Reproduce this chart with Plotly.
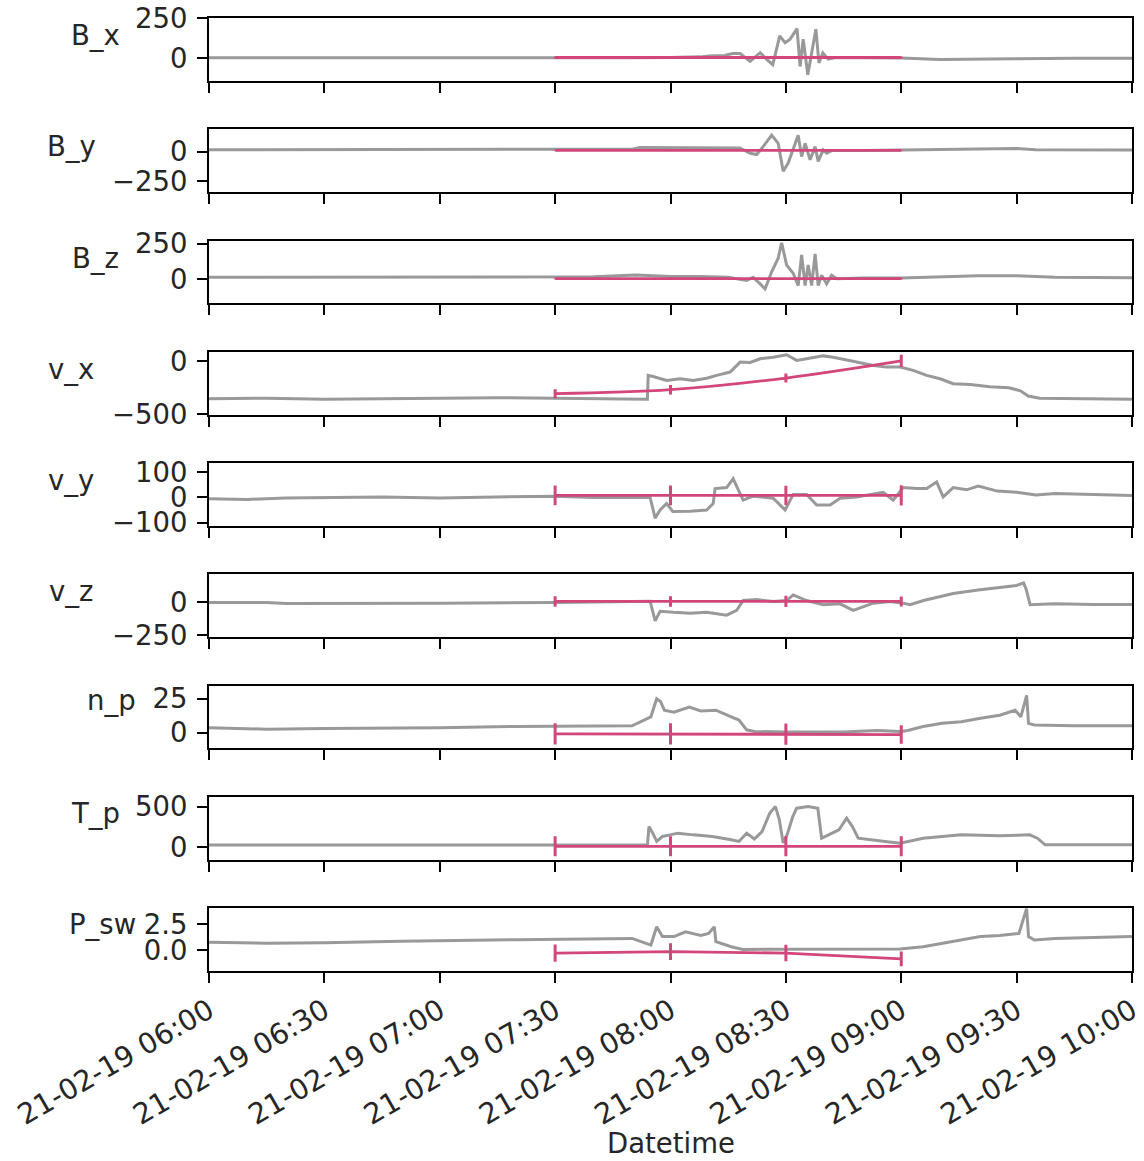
import pandas as pd
import plotly.graph_objects as go
from plotly.subplots import make_subplots

T0 = pd.Timestamp("2019-02-21 06:00")

# ---- observed (grey) series: minutes after 06:00 and values ----
bx_t = [0, 30, 60, 90, 110, 120, 127.7, 130, 134, 136.2, 138.1, 140.7, 143.3, 145.1, 146.6, 148.4, 149.8,
        151.1, 152.9, 153.7, 154.5, 155.7, 156.8, 157.8, 158.6, 159.6, 161, 163, 170, 180, 190, 200, 210, 225, 240]
bx_v = [3, 2, 3, 3, 3, 5, 9, 15, 18, 30, 30, -19, 35, -8, -40, 140, 98,
        120, 186, -51, 120, -103, 60, 182, -29, 34, -5, 5, 3, 2, -8, -3, -2, 0, 0]

by_t = [0, 30, 60, 90, 110, 112, 130, 138, 140.7, 142.4, 144.1, 146.3, 148, 149.3, 150.6, 151.9, 153.2,
        154.1, 155, 156.3, 157.6, 158.4, 159.7, 160.6, 162, 170, 180, 200, 210, 215, 240]
by_v = [15, 15, 15, 15, 20, 35, 35, 30, -14, -25, 42, 139, 70, -167, -97, 14, 139,
        -42, 70, -69, 42, -83, 14, -14, 10, 10, 14, 20, 25, 15, 14]

bz_t = [0, 30, 60, 100, 111, 115, 120, 127.7, 135, 139.8, 141.5, 143.3, 144.6, 146.3, 148.0, 148.9, 150.2,
        151.9, 153.2, 154.1, 155.0, 155.8, 156.7, 157.6, 158.4, 159.3, 160.6, 161.9, 163.2, 170, 180, 200,
        210, 220, 240]
bz_v = [15, 15, 15, 18, 30, 25, 20, 20, 15, -7, 15, -31, -66, 53, 148, 255, 100,
        43, -43, 171, -43, 100, -43, 178, -43, 29, -31, 29, 5, 10, 10, 25,
        25, 15, 12]

vx_t = [0, 15, 30, 45, 60, 75, 90, 100, 110, 114, 114.2, 115.5, 119, 122.5, 125.9, 129.4, 132, 135.5,
        138.1, 140.7, 143.3, 146.7, 150.2, 152.8, 155.4, 159.7, 162.3, 165.8, 168.4, 172.7, 176.2, 179.7,
        183.1, 186.6, 190.1, 193.5, 198, 203, 208, 211, 213, 216, 225, 240]
vx_v = [-355, -350, -360, -355, -350, -345, -350, -355, -360, -360, -133, -143, -181, -165, -181, -160,
        -133, -101, -6, -10, 26, 41, 64, 10, 26, 53, 40, 10, -6, -38, -54, -54,
        -85, -133, -165, -212, -220, -240, -250, -280, -330, -350, -355, -360]

vy_t = [0, 10, 20, 30, 45, 60, 75, 90, 100, 110, 114.7, 116.0, 117.3, 119.0, 120.6, 125.1, 129.4, 131.1,
        131.6, 134.6, 136.3, 137.6, 138.9, 141.5, 146.7, 149.8, 151.9, 155.4, 158.0, 161.5, 164.1, 168.4,
        172.7, 175.3, 177.9, 180.5, 184.0, 186.6, 189.2, 190.9, 193.5, 197, 200, 205, 210, 215, 220, 230, 240]
vy_v = [-5, -8, -2, 0, 2, -2, 3, 5, 0, 0, 0, -82, -50, -24, -56, -55, -50, -24,
        35, 39, 74, 31, -11, 5, -3, -50, 12, 12, -30, -30, -3, 2,
        12, 20, -11, 39, 35, 35, 61, 2, 39, 30, 45, 25, 20, 10, 15, 10, 8]

vz_t = [0, 15, 20, 30, 60, 90, 110, 114.7, 116, 117.3, 120.8, 125.1, 129.4, 134.6, 137.2, 138.9, 142.4,
        146.7, 150.2, 151.9, 155.4, 159.7, 164.1, 167.5, 172.7, 177.1, 180.5, 182.3, 185.8, 190.1, 193.5,
        200, 205, 210, 211.8, 212.5, 213.5, 220, 230, 240]
vz_v = [0, 0, -8, -6, -5, 0, 10, 10, -140, -67, -75, -82, -75, -97, -60, 15, 22,
        8, 15, 58, 15, -17, -10, -60, -5, 8, -5, -17, 15, 45, 68,
        95, 110, 130, 150, 100, -17, -10, -15, -15]

np_t = [0, 15, 30, 60, 80, 100, 110, 114.9, 116.4, 117.4, 118.4, 120.9, 124.9, 127.9, 131.8, 135.8, 137.8,
        139.8, 141.8, 150, 165, 173.7, 179.7, 181.7, 185.7, 190.6, 195.6, 200.6, 205.6, 209.6, 211.1, 212.6,
        213.1, 214.6, 225, 240]
np_v = [3.5, 2.5, 3, 3.5, 4.5, 5, 5, 11.6, 25, 23, 16.5, 15, 18.9, 16, 16.5, 11.6, 9.2,
        2, 0.8, 0.3, 0.3, 1.5, 0.8, 1.5, 4.4, 6.8, 8, 10.5, 12.8, 16.5, 11.6, 27.4,
        6.8, 5.6, 5, 5]

tp_t = [0, 60, 110, 114, 114.4, 115.4, 116.4, 117.9, 119.9, 121.9, 125.9, 130.9, 135.8, 137.8, 139.8,
        141.8, 143.8, 145.8, 147.3, 148.3, 149.3, 150.3, 151.8, 152.8, 155.8, 158.3, 159.3, 161.8, 163.8,
        165.8, 167.3, 168.8, 171.8, 175.8, 179.7, 181.7, 185.7, 190.6, 195.6, 205.6, 213.4, 215.4, 217.4, 240]
tp_v = [25, 25, 25, 25, 254, 172, 70, 131, 151, 172, 151, 131, 90, 70, 172,
        100, 192, 418, 500, 336, 49, 150, 377, 480, 500, 480, 110, 172, 213,
        356, 254, 110, 90, 70, 49, 70, 110, 131, 151, 140, 151, 110, 28, 28]

ps_t = [0, 15, 30, 50, 80, 100, 110, 114.9, 116.4, 117.9, 120.9, 123.9, 127.9, 129.9, 131.4, 131.8, 135.8,
        138.8, 150, 170, 179.7, 185.7, 190.6, 195.6, 200.6, 205.6, 210.6, 212.6, 213.1, 214.6, 220, 240]
ps_v = [0.75, 0.65, 0.7, 0.85, 1.0, 1.1, 1.12, 0.48, 2.24, 1.3, 1.3, 1.76, 1.4, 1.6, 2.24, 0.8, 0.32,
        0.06, 0.06, 0.06, 0.1, 0.32, 0.64, 0.96, 1.3, 1.4, 1.6, 4.0, 1.3, 0.96, 1.12, 1.3]

# ---- model (pink) series: 07:30, 08:00, 08:30, 09:00 ----
pk_t = [90, 120, 150, 180]
pk_bx = [5, 5, 5, 5]
pk_bx_err = [4, 4, 4, 4]
pk_by = [10, 10, 10, 10]
pk_by_err = [4, 4, 4, 4]
pk_bz = [5, 5, 5, 5]
pk_bz_err = [4, 4, 4, 4]
pk_vx = [-307, -269, -158, 5]
pk_vx_err = [43, 45, 43, 59]
pk_vy = [8, 8, 8, 8]
pk_vy_err = [39, 39, 38, 40]
pk_vz = [8, 8, 8, 8]
pk_vz_err = [40, 40, 43, 38]
pk_np = [-1.0, -1.0, -1.2, -1.5]
pk_np_err = [7.8, 7.8, 7.8, 6.9]
pk_tp = [10, 10, 10, 10]
pk_tp_err = [123, 123, 123, 123]
pk_ps = [-0.29, -0.15, -0.29, -0.85]
pk_ps_err = [0.83, 0.8, 0.8, 0.72]

labels = ["B_x", "B_y", "B_z", "v_x", "v_y", "v_z", "n_p", "T_p", "P_sw"]
y_ranges = [[-141, 252], [-344, 189], [-167, 271], [-507, 92], [-113, 136],
            [-265, 215], [-11.8, 34.7], [-156, 620], [-2.02, 4.04]]
y_tickvals = [[0, 250], [-250, 0], [0, 250], [-500, 0], [-100, 0, 100],
              [-250, 0], [0, 25], [0, 500], [0, 2.5]]
y_ticktext = [["0", "250"], ["\u2212250", "0"], ["0", "250"], ["\u2212500", "0"],
              ["\u2212100", "0", "100"], ["\u2212250", "0"], ["0", "25"], ["0", "500"], ["0.0", "2.5"]]
x_tick_minutes = [0, 30, 60, 90, 120, 150, 180, 210, 240]

grey_series = [(bx_t, bx_v), (by_t, by_v), (bz_t, bz_v), (vx_t, vx_v), (vy_t, vy_v),
               (vz_t, vz_v), (np_t, np_v), (tp_t, tp_v), (ps_t, ps_v)]
pink_series = [(pk_bx, pk_bx_err), (pk_by, pk_by_err), (pk_bz, pk_bz_err), (pk_vx, pk_vx_err),
               (pk_vy, pk_vy_err), (pk_vz, pk_vz_err), (pk_np, pk_np_err), (pk_tp, pk_tp_err),
               (pk_ps, pk_ps_err)]


def to_time(mins):
    return [T0 + pd.Timedelta(minutes=m) for m in mins]


W, H = 1144, 1161
ML, MR, MT, MB = 209, 12, 18, 190
plot_h = H - MT - MB
gap = 48.4

fig = make_subplots(rows=9, cols=1, shared_xaxes=True, vertical_spacing=gap / plot_h)

GREY = "#999999"
PINK = "#d3467b"
FONT = "DejaVu Sans, Verdana, sans-serif"
FS = 27.5
TXT = "#262626"

for i in range(9):
    r = i + 1
    gt, gv = grey_series[i]
    fig.add_trace(go.Scatter(x=to_time(gt), y=gv, mode="lines",
                             line=dict(color=GREY, width=3), showlegend=False), row=r, col=1)
    pv, pe = pink_series[i]
    fig.add_trace(go.Scatter(x=to_time(pk_t), y=pv, mode="lines",
                             line=dict(color=PINK, width=2.8, shape="spline" if i == 3 else "linear"),
                             error_y=dict(type="data", array=pe, color=PINK, thickness=3, width=0),
                             showlegend=False), row=r, col=1)
    fig.update_yaxes(row=r, col=1, range=y_ranges[i], tickmode="array", tickvals=y_tickvals[i],
                     ticktext=y_ticktext[i], ticks="outside", ticklen=10, tickwidth=1.8,
                     tickcolor="black", showline=True, linecolor="black", linewidth=1.8,
                     mirror=True, showgrid=False, zeroline=False, automargin=False,
                     tickfont=dict(family=FONT, size=FS, color=TXT), ticklabelstandoff=4)
    fig.update_xaxes(row=r, col=1, range=[T0, T0 + pd.Timedelta(minutes=240)], tickmode="array",
                     tickvals=to_time(x_tick_minutes),
                     ticks="outside", ticklen=10, tickwidth=1.8, tickcolor="black",
                     showline=True, linecolor="black", linewidth=1.8, mirror=True,
                     showgrid=False, zeroline=False, automargin=False)

fig.update_xaxes(row=9, col=1, showticklabels=True, tickformat="%d-%m-%y %H:%M", tickangle=-30,
                 tickfont=dict(family=FONT, size=28.5, color=TXT))

# horizontal y-labels
label_pos = [(95, 35), (71, 146), (95, 258), (71, 369), (71, 480), (71, 591), (111, 700), (95, 813), (102, 924)]
for lab, (px, py) in zip(labels, label_pos):
    fig.add_annotation(text=lab, xref="paper", yref="paper",
                       x=(px - ML) / (W - ML - MR), y=1 - (py - MT) / plot_h,
                       xanchor="center", yanchor="middle", showarrow=False,
                       font=dict(family=FONT, size=FS, color=TXT))

fig.add_annotation(text="Datetime", xref="paper", yref="paper", x=0.5, y=1 - (1143 - MT) / plot_h,
                   xanchor="center", yanchor="middle", showarrow=False,
                   font=dict(family=FONT, size=FS, color=TXT))

fig.update_layout(width=W, height=H, margin=dict(l=ML, r=MR, t=MT, b=MB, autoexpand=False),
                  paper_bgcolor="white", plot_bgcolor="white", showlegend=False)

fig.write_html("out.html")
